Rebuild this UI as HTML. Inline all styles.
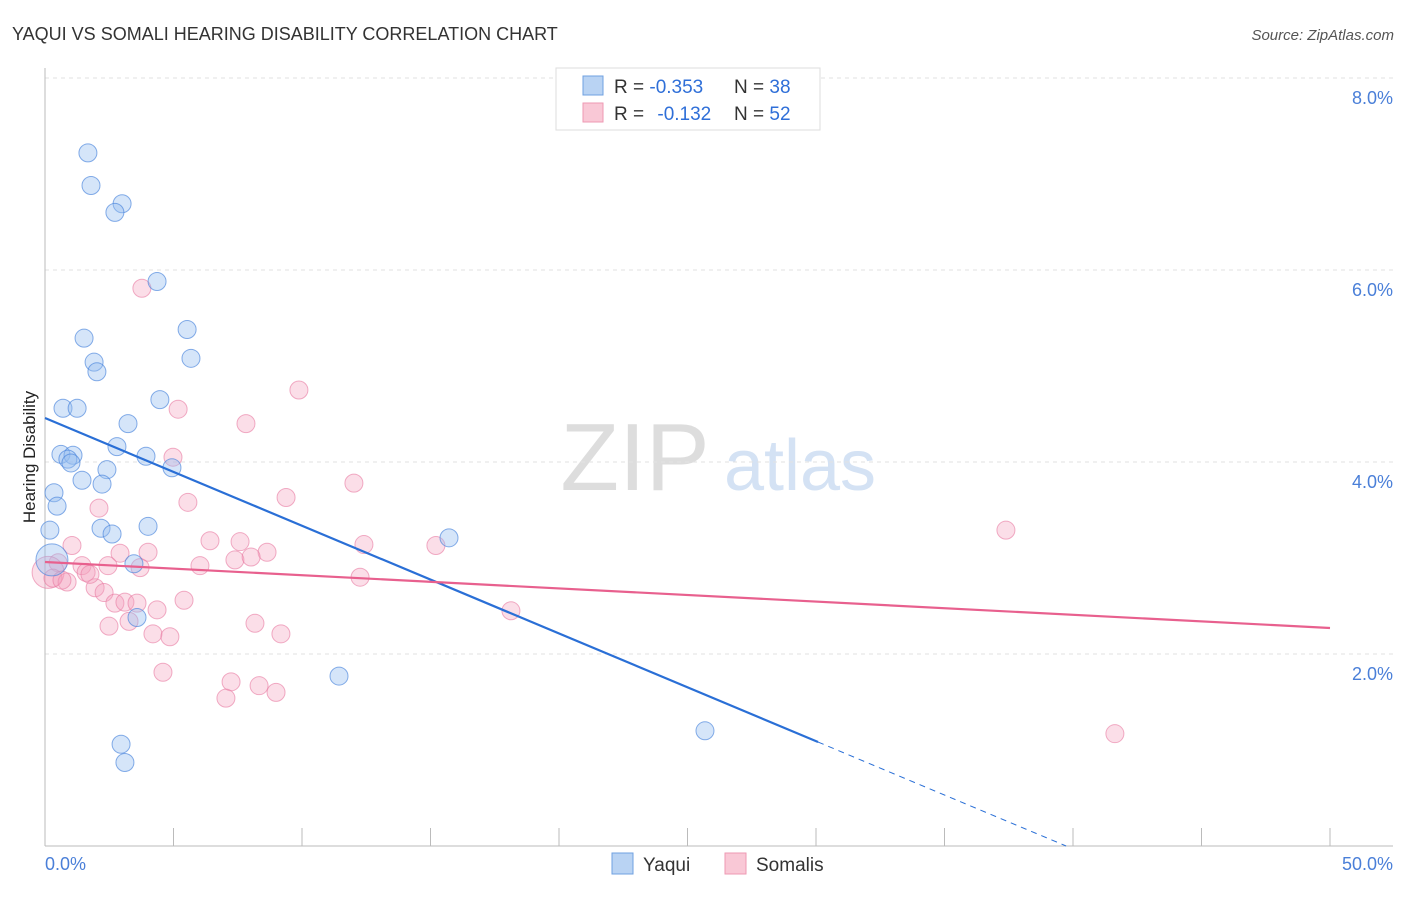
<!DOCTYPE html>
<html><head><meta charset="utf-8"><style>
body{margin:0;background:#fff;font-family:"Liberation Sans",sans-serif;}
svg text{font-family:"Liberation Sans",sans-serif;}
</style></head><body>
<svg id="chart" width="1406" height="892" viewBox="0 0 1406 892">
<text x="12" y="40" font-size="18" fill="#333">YAQUI VS SOMALI HEARING DISABILITY CORRELATION CHART</text>
<text x="1394" y="40" font-size="15" fill="#555" font-style="italic" text-anchor="end">Source: ZipAtlas.com</text>
<text x="35" y="457" font-size="17" fill="#222" text-anchor="middle" transform="rotate(-90 35 457)">Hearing Disability</text>
<g><text x="635" y="490" font-size="96" fill="#ddd" font-family="Liberation Serif" text-anchor="middle">ZIP</text><text x="800" y="490" font-size="72" fill="#d4e2f4" text-anchor="middle">atlas</text></g>
<g id="grid"></g><g id="axes"></g><g id="marks"></g>
<g>
<rect x="556" y="68" width="264" height="62" fill="#fff" stroke="#ddd"/>
<rect x="583" y="76" width="20" height="19" fill="#b9d3f3" stroke="#6fa0e0"/>
<rect x="583" y="103" width="20" height="19" fill="#f9c8d6" stroke="#ee99b3"/>
<text x="614" y="93" font-size="19" fill="#333">R = <tspan fill="#2f6fd8">-0.353</tspan><tspan x="734">N = </tspan><tspan fill="#2f6fd8">38</tspan></text>
<text x="614" y="120" font-size="19" fill="#333">R = <tspan fill="#2f6fd8" dx="8">-0.132</tspan><tspan x="734">N = </tspan><tspan fill="#2f6fd8">52</tspan></text>
</g>
<g>
<rect x="612" y="853" width="21" height="21" fill="#b9d3f3" stroke="#6fa0e0"/>
<text x="643" y="871" font-size="19" fill="#333">Yaqui</text>
<rect x="725" y="853" width="21" height="21" fill="#f9c8d6" stroke="#ee99b3"/>
<text x="756" y="871" font-size="19" fill="#333">Somalis</text>
</g>
</svg>
<script>
const yTicks=[2,4,6,8];
const yTickLabels=["2.0%","4.0%","6.0%","8.0%"];
const xTickLabels=["0.0%","50.0%"];
const yaquiX=[1.67,1.79,3.0,2.72,4.36,1.52,5.53,5.68,1.91,2.02,0.7,1.25,4.47,3.23,2.8,3.93,0.62,1.09,0.89,1.01,2.41,4.94,1.44,2.22,0.35,0.47,0.19,2.18,2.61,4.01,15.72,0.27,3.46,3.58,11.44,2.96,3.11,25.68];
const yaquiY=[7.22,6.88,6.69,6.6,5.88,5.29,5.38,5.08,5.04,4.94,4.56,4.56,4.65,4.4,4.16,4.06,4.08,4.07,4.03,3.99,3.92,3.94,3.81,3.77,3.68,3.54,3.29,3.31,3.25,3.33,3.21,2.98,2.94,2.38,1.77,1.06,0.87,1.2];
const yaquiR=[9,9,9,9,9,9,9,9,9,9,9,9,9,9,9,9,9,9,9,9,9,9,9,9,9,9,9,9,9,9,9,16,9,9,9,9,9,9];
const somaliX=[3.77,9.88,5.18,7.82,4.98,12.02,5.56,9.38,2.1,37.39,6.42,7.59,12.41,15.21,1.05,2.92,4.01,8.64,7.39,8.02,0.51,1.44,2.45,3.7,6.03,12.26,0.12,0.31,0.86,1.6,1.95,2.3,2.72,3.11,3.58,4.36,5.41,18.13,2.49,3.27,4.2,4.86,8.17,9.18,4.59,7.24,8.33,8.99,7.04,41.63,0.66,1.75];
const somaliY=[5.81,4.75,4.55,4.4,4.05,3.78,3.58,3.63,3.52,3.29,3.18,3.17,3.14,3.13,3.13,3.05,3.06,3.06,2.98,3.01,2.95,2.92,2.92,2.9,2.92,2.8,2.85,2.79,2.75,2.85,2.69,2.64,2.53,2.54,2.53,2.46,2.56,2.45,2.29,2.34,2.21,2.18,2.32,2.21,1.81,1.71,1.67,1.6,1.54,1.17,2.77,2.83];
const somaliR=[9,9,9,9,9,9,9,9,9,9,9,9,9,9,9,9,9,9,9,9,9,9,9,9,9,9,16,9,9,9,9,9,9,9,9,9,9,9,9,9,9,9,9,9,9,9,9,9,9,9,9,9];
const yaquiLine=[4.458,-0.1122];
const somaliLine=[2.958,-0.01374];
const yaquiSolidEnd=30.08;
const X0=45,X1=1330,Y0=846,PX=(X1-X0)/50,PY=96;
function xs(v){return X0+v*PX;}
function ys(v){return Y0-v*PY;}
const NS="http://www.w3.org/2000/svg";
function mk(tag,parent,attrs){const e=document.createElementNS(NS,tag);for(const k in attrs)e.setAttribute(k,attrs[k]);parent.appendChild(e);return e;}
const grid=document.getElementById('grid'),axes=document.getElementById('axes'),marks=document.getElementById('marks');
yTicks.forEach((t,i)=>{
 const l=mk('line',grid,{x1:X0,x2:1393,y1:ys(t),y2:ys(t),stroke:'#e2e2e2','stroke-dasharray':'4,4'});
 
 
 const tx=mk('text',axes,{x:1393,y:ys(t)+26,'font-size':18,fill:'#4a7fd8','text-anchor':'end'});
 tx.textContent=yTickLabels[i];
 
 
});
const ya=mk('line',axes,{x1:X0,x2:X0,y1:68,y2:Y0,stroke:'#bbb'});


const xa=mk('line',axes,{x1:X0,x2:1393,y1:Y0,y2:Y0,stroke:'#bbb'});


for(let i=1;i<=10;i++){
 const t=mk('line',axes,{x1:xs(i*5),x2:xs(i*5),y1:828,y2:Y0,stroke:'#bbb'});
 
 
}
const xl0=mk('text',axes,{x:45,y:870,'font-size':18,fill:'#4a7fd8'});
xl0.textContent=xTickLabels[0];


const xl1=mk('text',axes,{x:1393,y:870,'font-size':18,fill:'#4a7fd8','text-anchor':'end'});
xl1.textContent=xTickLabels[1];


somaliX.forEach((x,i)=>{
 const c=mk('circle',marks,{cx:xs(x),cy:ys(somaliY[i]),r:somaliR[i],fill:'rgba(244,160,190,0.35)',stroke:'rgba(232,120,160,0.6)','stroke-width':1});
 
 
});
yaquiX.forEach((x,i)=>{
 const c=mk('circle',marks,{cx:xs(x),cy:ys(yaquiY[i]),r:yaquiR[i],fill:'rgba(150,190,240,0.4)',stroke:'rgba(70,130,220,0.65)','stroke-width':1});
 
 
});
const yEndDash=(0-yaquiLine[0])/yaquiLine[1];
const bl=mk('line',marks,{x1:xs(0),y1:ys(yaquiLine[0]),x2:xs(yaquiSolidEnd),y2:ys(yaquiLine[0]+yaquiLine[1]*yaquiSolidEnd),stroke:'#2a6fd6','stroke-width':2.2});


const bd=mk('line',marks,{x1:xs(yaquiSolidEnd),y1:ys(yaquiLine[0]+yaquiLine[1]*yaquiSolidEnd),x2:xs(yEndDash),y2:ys(0),stroke:'#2a6fd6','stroke-width':1,'stroke-dasharray':'6,5'});


const pl=mk('line',marks,{x1:xs(0),y1:ys(somaliLine[0]),x2:xs(50),y2:ys(somaliLine[0]+somaliLine[1]*50),stroke:'#e8608e','stroke-width':2.2});


</script>
</body></html>
